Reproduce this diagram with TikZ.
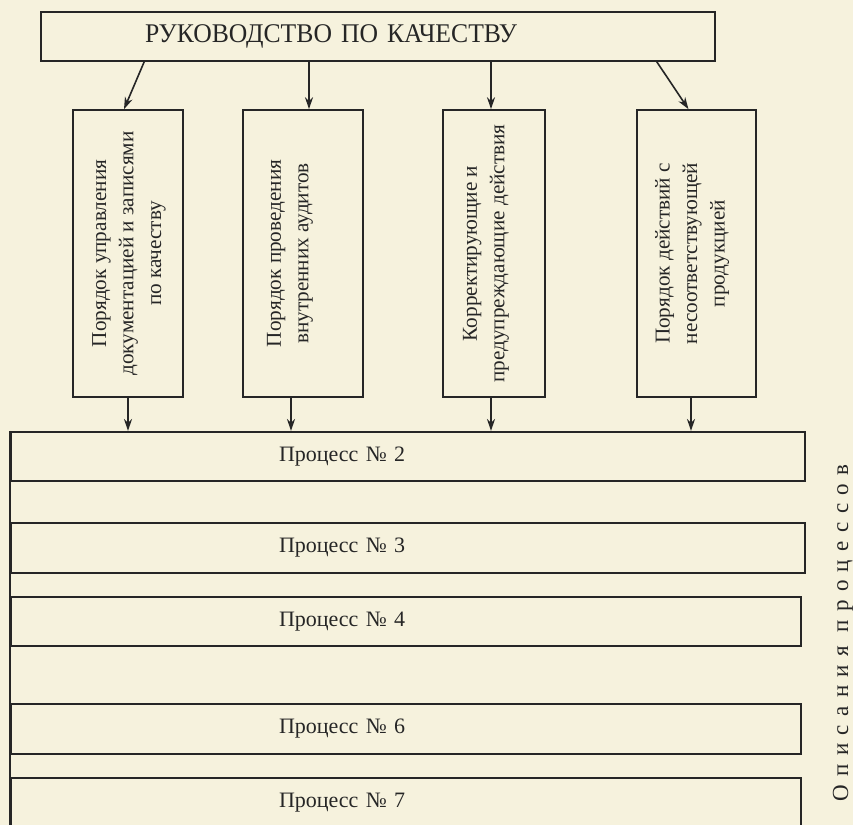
\documentclass[tikz,border=0pt]{standalone}
\usepackage{fontspec}
\setmainfont{Liberation Serif}
\newfontfamily\titlefont[FakeStretch=0.95]{Liberation Serif}
\newfontfamily\boxfont{Liberation Serif}
\newfontfamily\sidefont[LetterSpace=36]{Liberation Serif}
\usepackage{graphicx}
\usepackage{xcolor}
\usepackage{tikz}
\usetikzlibrary{positioning, shapes.geometric}
\usetikzlibrary{calc}
\usetikzlibrary{arrows.meta}
\definecolor{paper}{RGB}{246,242,221}
\definecolor{ink}{RGB}{38,38,38}
\tikzstyle{manual} = [rectangle, draw=ink, thick, minimum height=24.5pt, text width=233pt, inner xsep=52pt, align=left, text=ink, font=\titlefont\fontsize{13.5}{16}\selectfont]
\tikzstyle{docbox} = [rectangle, draw=ink, thick, minimum height=143.5pt, inner sep=0pt, text=ink, font=\boxfont\fontsize{10.6}{13.75}\selectfont]
\tikzstyle{proc} = [rectangle, draw=ink, thick, minimum height=24.75pt, inner xsep=134pt, align=left, text=ink, font=\fontsize{11}{13}\selectfont]
\tikzstyle{arrow} = [thick, draw=ink, ->, >={Stealth[length=6pt,width=4pt]}]
\newcommand{\vtext}[1]{\rotatebox{90}{\begin{tabular}{@{}c@{}}#1\end{tabular}}}

\begin{document}
\begin{tikzpicture}[x=0.5pt, y=-0.5pt]
		\useasboundingbox (0,0) rectangle (853,825);
		\clip (0,0) rectangle (853,825);
		\fill [paper] (0,0) rectangle (853,825);
		\node (rk) [manual] at (378,36.5) {РУКОВОДСТВО ПО КАЧЕСТВУ};
		\node (d1) [docbox, minimum width=55pt] at (128,253.5) {\vtext{Порядок управления\\документацией и записями\\по качеству}};
		\node (d2) [docbox, minimum width=60pt] at (303,253.5) {\vtext{Порядок проведения\\внутренних аудитов}\hspace*{14pt}};
		\node (d3) [docbox, minimum width=51pt] at (494,253.5) {\vtext{Корректирующие и\\предупреждающие действия}\hspace*{9pt}};
		\node (d4) [docbox, minimum width=59.5pt] at (696.5,253.5) {\vtext{Порядок действий с\\несоответствующей\\продукцией}\hspace*{5pt}};
		\node (p2) [proc, text width=129pt] at (408,456.5) {Процесс № 2};
		\node (p3) [proc, text width=129pt] at (408,548) {Процесс № 3};
		\node (p4) [proc, text width=127pt] at (406,621.5) {Процесс № 4};
		\node (p6) [proc, text width=127pt] at (406,729) {Процесс № 6};
		\node (p7) [proc, text width=127pt] at (406,803) {Процесс № 7};
		\node (desc) [rotate=90, text=ink, font=\sidefont\fontsize{11.5}{13}\selectfont] at (843,633) {Описания процессов};
		\coordinate (bot) at (11,830);
		\coordinate (t2) at ($(d2.north)+(6,0)$);
		\coordinate (t3) at ($(d3.north)+(-3,0)$);
		\coordinate (b2) at ($(d2.south)+(-12,0)$);
		\coordinate (b3) at ($(d3.south)+(-3,0)$);
		\coordinate (b4) at ($(d4.south)+(-5.5,0)$);
		\draw [thick, ink](p2.north west) -- (p2.north west |- bot);
		\draw [arrow]($(rk.south west)+(104,0)$) -- ($(d1.north)+(-4,0)$);
		\draw [arrow](t2 |- rk.south) -- (t2);
		\draw [arrow](t3 |- rk.south) -- (t3);
		\draw [arrow]($(rk.south east)+(-59,0)$) -- ($(d4.north)+(-8,0)$);
		\draw [arrow](d1.south) -- (d1.south |- p2.north);
		\draw [arrow](b2) -- (b2 |- p2.north);
		\draw [arrow](b3) -- (b3 |- p2.north);
		\draw [arrow](b4) -- (b4 |- p2.north);
	\end{tikzpicture}
\end{document}
